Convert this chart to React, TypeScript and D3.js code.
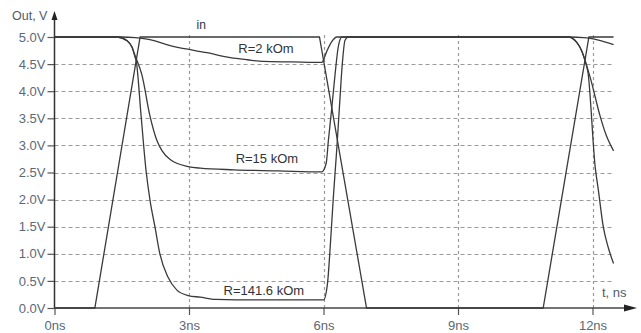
import { useEffect, useRef } from "react";
import * as d3 from "d3";

// time (ns), voltage (V)
const inputWave: [number, number][] = [
  [0, 0], [0.9, 0], [1.91, 5], [5.91, 5], [6.96, 0], [10.9, 0], [11.92, 5], [12.47, 5],
];
const out2k: [number, number][] = [
  [0, 5], [1.5, 5], [1.8, 4.99], [1.91, 4.98], [2.13, 4.95], [2.5, 4.86], [2.8, 4.8], [3.0, 4.77],
  [3.4, 4.71], [3.92, 4.62], [4.3, 4.58], [4.65, 4.55], [5.3, 4.54], [5.96, 4.53], [6.07, 4.73],
  [6.18, 4.91], [6.3, 5], [11.5, 5], [11.8, 4.99], [11.92, 4.98], [12.2, 4.93], [12.47, 4.86],
];
const out15k: [number, number][] = [
  [0, 5], [1.4, 5], [1.62, 4.93], [1.73, 4.81], [1.8, 4.65], [1.95, 4.3], [2.13, 3.54], [2.28, 3.1],
  [2.4, 2.9], [2.58, 2.74], [2.98, 2.61], [3.25, 2.58], [4, 2.55], [5, 2.53], [5.96, 2.51],
  [6.06, 2.67], [6.11, 3.1], [6.18, 3.65], [6.26, 4.33], [6.33, 4.82], [6.41, 5], [11.46, 5],
  [11.65, 4.9], [11.76, 4.74], [11.84, 4.55], [11.95, 4.25], [12.17, 3.54], [12.3, 3.2], [12.47, 2.9],
];
const out141k: [number, number][] = [
  [0, 5], [1.4, 5], [1.62, 4.93], [1.73, 4.81], [1.8, 4.62], [1.82, 4.57], [1.93, 3.56], [2.04, 2.55],
  [2.13, 1.99], [2.24, 1.5], [2.35, 1.0], [2.53, 0.57], [2.73, 0.33], [2.98, 0.23], [3.25, 0.2],
  [3.6, 0.16], [4.5, 0.15], [6.0, 0.15], [6.09, 0.46], [6.15, 1.13], [6.22, 2.05], [6.3, 2.98],
  [6.37, 3.9], [6.42, 4.51], [6.48, 4.94], [6.55, 5], [11.46, 5], [11.65, 4.9], [11.76, 4.74],
  [11.84, 4.55], [11.9, 4.34], [12.06, 2.6], [12.13, 2.18], [12.24, 1.5], [12.35, 1.12], [12.47, 0.82],
];

const vTicks = [0, 0.5, 1, 1.5, 2, 2.5, 3, 3.5, 4, 4.5, 5];
const tTicks = [0, 3, 6, 9, 12];
const curveLabels = [
  { text: "in", t: 3.17, v: 5.14, size: 12 },
  { text: "R=2 kOm", t: 4.1, v: 4.7, size: 13 },
  { text: "R=15 kOm", t: 4.04, v: 2.67, size: 13 },
  { text: "R=141.6 kOm", t: 3.77, v: 0.24, size: 13 },
];

const W = 641, H = 333;
const FONT = "'Liberation Sans', Arial, sans-serif";

export default function App() {
  const svgRef = useRef<SVGSVGElement>(null);

  useEffect(() => {
    const svg = d3.select(svgRef.current);
    svg.selectAll("*").remove();

    const x = d3.scaleLinear().domain([0, 12]).range([54.5, 592.5]);
    const y = d3.scaleLinear().domain([0, 5]).range([308, 37]);
    const tEnd = 12.47;

    // grid
    const grid = svg.append("g").attr("stroke", "#9a9a9a").attr("stroke-width", 1.2).attr("stroke-dasharray", "4,3");
    grid.selectAll("line.h").data(vTicks.filter(v => v > 0 && v < 5)).join("line")
      .attr("x1", x(0)).attr("x2", x(tEnd))
      .attr("y1", d => Math.round(y(d)) + 0.5).attr("y2", d => Math.round(y(d)) + 0.5);
    grid.selectAll("line.v").data(tTicks.filter(t => t > 0)).join("line")
      .attr("x1", d => Math.round(x(d)) + 0.5).attr("x2", d => Math.round(x(d)) + 0.5)
      .attr("y1", y(0)).attr("y2", y(5.08))
      .attr("stroke-dasharray", "3,3");

    // axes
    const yAxis = d3.axisLeft(y).tickValues(vTicks).tickFormat(d => (d as number).toFixed(1) + "V").tickSize(7).tickPadding(2);
    const gy = svg.append("g").attr("transform", `translate(${x(0)},0)`).call(yAxis);
    const xAxis = d3.axisBottom(x).tickValues(tTicks).tickFormat(d => d + "ns").tickSize(7).tickPadding(6);
    const gx = svg.append("g").attr("transform", `translate(0,${y(0)})`).call(xAxis);
    [gx, gy].forEach(g => {
      g.select(".domain").remove();
      g.selectAll(".tick line").attr("stroke", "#555").attr("stroke-width", 1.2);
      g.selectAll(".tick text").attr("fill", "#5b6875").style("font", `13px ${FONT}`);
    });

    svg.append("line").attr("x1", x(0)).attr("x2", x(0)).attr("y1", y(0)).attr("y2", 18)
      .attr("stroke", "#333").attr("stroke-width", 1.5);
    svg.append("path").attr("d", `M${x(0)},11 L${x(0) - 3},20 L${x(0) + 3},20 Z`).attr("fill", "#222");
    svg.append("line").attr("x1", x(0)).attr("x2", 628).attr("y1", y(0)).attr("y2", y(0))
      .attr("stroke", "#444").attr("stroke-width", 1.5);
    svg.append("path").attr("d", `M637,${y(0)} L624,${y(0) - 3.5} L624,${y(0) + 3.5} Z`).attr("fill", "#222");

    svg.append("text").attr("x", 12).attr("y", 20).attr("fill", "#4f5b66")
      .style("font", `12.5px ${FONT}`).text("Out, V");
    svg.append("text").attr("x", 602).attr("y", 297).attr("fill", "#4f5b66")
      .style("font", `13px ${FONT}`).text("t, ns");

    // curves
    const line = d3.line<[number, number]>().x(d => x(d[0])).y(d => y(d[1]));
    const smooth = d3.line<[number, number]>().x(d => x(d[0])).y(d => y(d[1])).curve(d3.curveMonotoneX);
    const curves = svg.append("g").attr("fill", "none").attr("stroke", "#3a3a3a").attr("stroke-width", 1.3);
    curves.append("path").datum(inputWave).attr("d", line);
    [out2k, out15k, out141k].forEach(s => {
      curves.append("path").datum(s).attr("d", smooth);
    });

    svg.selectAll("text.lbl").data(curveLabels).join("text")
      .attr("class", "lbl")
      .attr("x", d => x(d.t)).attr("y", d => y(d.v))
      .attr("fill", "#333")
      .style("font", d => `${d.size}px ${FONT}`)
      .text(d => d.text);
  }, []);

  return (
    <svg ref={svgRef} width={W} height={H} viewBox={`0 0 ${W} ${H}`}
      style={{ position: "absolute", left: 0, top: 0, background: "#fff" }} />
  );
}
